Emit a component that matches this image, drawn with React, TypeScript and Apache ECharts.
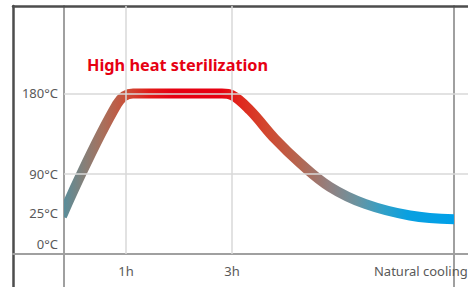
import React, { useEffect, useRef } from 'react';
import * as echarts from 'echarts';

// ---------- data ----------
const titleText = 'High heat sterilization';

// temperature ticks and their (schematic, non-linear) positions on the vertical axis
const yTickLabels = ['0°C', '25°C', '90°C', '180°C'];
const yTickTemps = [0, 25, 90, 180];
const yTickPos = [11, 46, 90, 180];
const yGridTemps = [90, 180];

// time ticks: positions along the schematic time axis (0 = start, 100 = end)
const xTickLabels = ['1h', '3h', 'Natural cooling'];
const xTickPos = [15.9, 43.1, 91.5];
const xGridPos = [15.9, 43.1];

// temperature curve
const curveX = [0, 13.6, 17.7, 20.8, 37.4, 40.5, 43.1, 47.7, 54.1, 60.5, 68.2, 77.2, 88.7, 100];
const curveTemp = [27, 168, 180, 180, 180, 180, 178, 161, 129, 102, 68, 40, 23, 20];

// ---------- layout ----------
const W = 468;
const H = 287;
const FRAME_LEFT = 13;
const FRAME_TOP = 6;
const START_PX = 64;
const END_PX = 454;
const Y_MIN = -37;
const Y_MAX = 278;
const LINE_W = 10;

function tempToPos(t: number): number {
  const n = yTickTemps.length;
  let i = 0;
  while (i < n - 2 && t > yTickTemps[i + 1]) i++;
  const t0 = yTickTemps[i];
  const t1 = yTickTemps[i + 1];
  const p0 = yTickPos[i];
  const p1 = yTickPos[i + 1];
  return p0 + ((t - t0) * (p1 - p0)) / (t1 - t0);
}

function nearestIndex(arr: number[], v: number): number {
  let best = 0;
  for (let i = 1; i < arr.length; i++) {
    if (Math.abs(arr[i] - v) < Math.abs(arr[best] - v)) best = i;
  }
  return best;
}

export default function App() {
  const ref = useRef<HTMLDivElement>(null);

  useEffect(() => {
    if (!ref.current) return;
    const chart = echarts.init(ref.current, undefined, { renderer: 'svg' });

    const uPerPx = 100 / (END_PX - START_PX);
    const xMin0 = (FRAME_LEFT - START_PX) * uPerPx;
    const xMax0 = (W - START_PX) * uPerPx;
    const pad = (LINE_W / 2) * uPerPx;

    const gray = '#a0a0a0';
    const dark = '#4d4d4d';
    const light = '#d9d9d9';
    const labelColor = '#595959';

    const gradient = new echarts.graphic.LinearGradient(0, 0, 1, 0, [
      { offset: 0, color: '#5a8d9a' },
      { offset: 0.05, color: '#84807a' },
      { offset: 0.1, color: '#a8705c' },
      { offset: 0.16, color: '#cc4f38' },
      { offset: 0.22, color: '#e21a17' },
      { offset: 0.28, color: '#e60012' },
      { offset: 0.4, color: '#e60012' },
      { offset: 0.45, color: '#e0261c' },
      { offset: 0.52, color: '#d2482f' },
      { offset: 0.6, color: '#b5654f' },
      { offset: 0.68, color: '#928080' },
      { offset: 0.75, color: '#6a93a0' },
      { offset: 0.82, color: '#30a0c8' },
      { offset: 0.88, color: '#0aa0e0' },
      { offset: 1, color: '#00a0e9' },
    ]);

    const hidden = {
      axisTick: { show: false },
      axisLabel: { show: false },
      splitLine: { show: false },
    };

    const option: any = {
      animation: false,
      textStyle: { fontFamily: 'Noto Sans' },
      title: {
        text: titleText,
        left: 87,
        top: 57,
        padding: 0,
        textStyle: { color: '#e60012', fontSize: 16.3, fontWeight: 'bold', fontFamily: 'Noto Sans' },
      },
      grid: [
        { left: FRAME_LEFT, right: 0, top: FRAME_TOP, bottom: 0, containLabel: false, outerBoundsMode: 'none' },
        {
          left: START_PX + LINE_W / 2,
          right: W - END_PX + LINE_W / 2,
          top: FRAME_TOP,
          bottom: 0,
          containLabel: false,
          outerBoundsMode: 'none',
        },
      ],
      xAxis: [
        {
          gridIndex: 0,
          type: 'value',
          min: xMin0,
          max: xMax0,
          position: 'bottom',
          axisLine: { show: true, onZero: true, onZeroAxisIndex: 0, lineStyle: { color: gray, width: 2 } },
          ...hidden,
        },
        {
          gridIndex: 0,
          type: 'value',
          min: xMin0,
          max: xMax0,
          position: 'top',
          axisLine: { show: true, onZero: false, lineStyle: { color: dark, width: 2.5 } },
          ...hidden,
        },
        {
          gridIndex: 1,
          type: 'value',
          min: pad,
          max: 100 - pad,
          show: false,
        },
        {
          gridIndex: 0,
          type: 'value',
          min: xMin0,
          max: xMax0,
          position: 'bottom',
          axisLine: { show: false, onZero: false },
          axisTick: { show: false },
          splitLine: { show: false },
          axisLabel: {
            inside: true,
            customValues: xTickPos,
            formatter: (v: number) => xTickLabels[nearestIndex(xTickPos, v)],
            color: labelColor,
            fontSize: 13,
            margin: 10,
          },
        },
      ],
      yAxis: [
        {
          gridIndex: 0,
          type: 'value',
          min: Y_MIN,
          max: Y_MAX,
          position: 'left',
          axisLine: { show: true, onZero: false, lineStyle: { color: dark, width: 2.5 } },
          ...hidden,
        },
        {
          gridIndex: 0,
          type: 'value',
          min: Y_MIN,
          max: Y_MAX,
          position: 'left',
          offset: -(START_PX - FRAME_LEFT),
          axisLine: { show: true, onZero: false, lineStyle: { color: gray, width: 2 } },
          axisTick: { show: false },
          splitLine: { show: false },
          axisLabel: {
            customValues: yTickPos,
            formatter: (v: number) => yTickLabels[nearestIndex(yTickPos, v)],
            color: labelColor,
            fontSize: 13,
            margin: 6,
          },
        },
        {
          gridIndex: 0,
          type: 'value',
          min: Y_MIN,
          max: Y_MAX,
          position: 'right',
          offset: -(W - END_PX),
          axisLine: { show: true, onZero: false, lineStyle: { color: gray, width: 2 } },
          ...hidden,
        },
        {
          gridIndex: 1,
          type: 'value',
          min: Y_MIN,
          max: Y_MAX,
          show: false,
        },
      ],
      series: [
        {
          type: 'line',
          xAxisIndex: 0,
          yAxisIndex: 0,
          data: [],
          silent: true,
          clip: false,
          markLine: {
            silent: true,
            symbol: ['none', 'none'],
            label: { show: false },
            lineStyle: { color: light, width: 1.5, type: 'solid' },
            emphasis: { disabled: true },
            data: [
              ...xGridPos.map((x) => [{ coord: [x, 0] }, { coord: [x, Y_MAX] }]),
              ...yGridTemps.map((t) => [
                { coord: [0, tempToPos(t)] },
                { coord: [xMax0, tempToPos(t)] },
              ]),
            ],
          },
        },
        {
          type: 'line',
          xAxisIndex: 2,
          yAxisIndex: 3,
          data: curveX.map((x, i) => [x, tempToPos(curveTemp[i])]),
          smooth: 0.4,
          showSymbol: false,
          symbol: 'none',
          silent: true,
          clip: true,
          lineStyle: { width: LINE_W, cap: 'square', join: 'round', color: gradient },
        },
      ],
    };

    chart.setOption(option);
    return () => chart.dispose();
  }, []);

  return (
    <div
      ref={ref}
      style={{ position: 'fixed', left: 0, top: 0, width: W, height: H, background: '#fff' }}
    />
  );
}
